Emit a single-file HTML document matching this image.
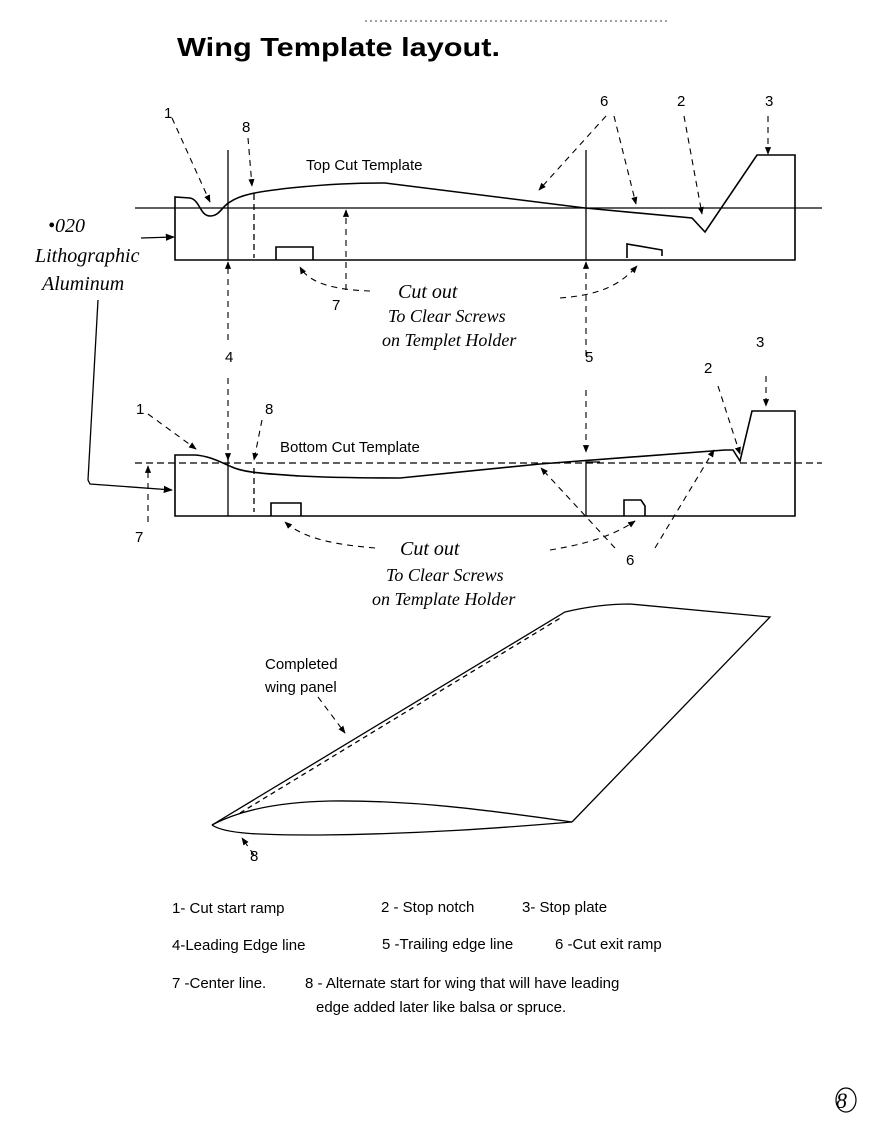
<!DOCTYPE html>
<html><head><style>
html,body{margin:0;padding:0;background:#fff;}
svg{display:block;}
.t{font-family:"Liberation Sans",sans-serif;font-size:15px;fill:#000;}
.h{font-family:"Liberation Serif",serif;font-style:italic;font-size:20px;fill:#000;}
</style></head><body>
<svg width="879" height="1127" viewBox="0 0 879 1127" xmlns="http://www.w3.org/2000/svg">
<defs>
<marker id="a" viewBox="0 0 10 10" refX="9" refY="5" markerWidth="7" markerHeight="7" orient="auto"><path d="M0,1 L10,5 L0,9 z" fill="#000"/></marker>
</defs>
<line x1="365" y1="21" x2="668" y2="21" stroke="#000" stroke-width="0.8" stroke-dasharray="2,3"/>
<text x="177" y="56" textLength="323" lengthAdjust="spacingAndGlyphs" style="font-family:'Liberation Sans',sans-serif;font-weight:bold;font-size:26px">Wing  Template layout.</text>

<g fill="none" stroke="#000" stroke-width="1.3">
<!-- Top template -->
<line x1="135" y1="208" x2="822" y2="208"/>
<path d="M175,260 L175,197 L190,198 C200,200 200,216 210,216 C220,216 222,206 230,202 C240,195 255,192 290,188 C330,184 355,183 385,183 L585,208 L692,218 L705,232 L757,155 L795,155 L795,260 Z" stroke-width="1.6"/>
<line x1="228" y1="150" x2="228" y2="260"/>
<line x1="586" y1="150" x2="586" y2="260"/>
<line x1="254" y1="194" x2="254" y2="258" stroke-dasharray="6,4"/>
<path d="M276,260 V247 H313 V260" stroke-width="1.6"/>
<path d="M627,258 V244 L662,250 V256" stroke-width="1.6"/>
<!-- Bottom template -->
<line x1="135" y1="463" x2="822" y2="463" stroke-dasharray="7,4"/>
<path d="M175,516 L175,455 L195,455 C210,456 220,462 232,467 C245,473 270,474 300,476 C340,478 375,478 400,478 L540,464 L725,450 L733,450 L740,461 L752,411 L795,411 L795,516 Z" stroke-width="1.6"/>
<line x1="228" y1="455" x2="228" y2="516"/>
<path d="M600,462 H586 V516"/>
<line x1="254" y1="468" x2="254" y2="512" stroke-dasharray="6,4"/>
<path d="M271,516 V503 H301 V516" stroke-width="1.6"/>
<path d="M624,516 V500 H641 L645,506 V516" stroke-width="1.6"/>
<!-- wing panel -->
<path d="M212,825 L565,612 C590,606 610,604 630,604 L770,617 L572,822"/>
<path d="M212,825 C240,810 280,802 330,801 C420,800 500,812 572,822"/>
<path d="M212,825 C225,834 260,835 320,835 C420,834 500,828 572,822"/>
<line x1="240" y1="813" x2="562" y2="617" stroke-dasharray="5,4"/>
<!-- Aluminum leader -->
<path d="M98,300 L88,480 L90,484 L172,490" marker-end="url(#a)"/>
<line x1="141" y1="238" x2="174" y2="237" marker-end="url(#a)"/>
</g>

<g fill="none" stroke="#000" stroke-width="1.1" stroke-dasharray="6,5">
<line x1="172" y1="118" x2="210" y2="202" marker-end="url(#a)"/>
<line x1="248" y1="138" x2="252" y2="186" marker-end="url(#a)"/>
<line x1="606" y1="116" x2="539" y2="190" marker-end="url(#a)"/>
<line x1="614" y1="116" x2="636" y2="204" marker-end="url(#a)"/>
<line x1="684" y1="116" x2="702" y2="214" marker-end="url(#a)"/>
<line x1="768" y1="116" x2="768" y2="154" marker-end="url(#a)"/>
<line x1="346" y1="290" x2="346" y2="210" marker-end="url(#a)"/>
<line x1="228" y1="340" x2="228" y2="262" marker-end="url(#a)"/>
<line x1="586" y1="356" x2="586" y2="262" marker-end="url(#a)"/>
<path d="M370,291 C340,290 310,285 300,267" marker-end="url(#a)"/>
<path d="M560,298 C600,295 620,285 637,266" marker-end="url(#a)"/>
<line x1="228" y1="378" x2="228" y2="460" marker-end="url(#a)"/>
<line x1="586" y1="390" x2="586" y2="452" marker-end="url(#a)"/>
<line x1="766" y1="376" x2="766" y2="406" marker-end="url(#a)"/>
<line x1="718" y1="386" x2="740" y2="454" marker-end="url(#a)"/>
<line x1="148" y1="414" x2="196" y2="449" marker-end="url(#a)"/>
<line x1="262" y1="420" x2="254" y2="460" marker-end="url(#a)"/>
<line x1="148" y1="522" x2="148" y2="466" marker-end="url(#a)"/>
<line x1="615" y1="548" x2="541" y2="468" marker-end="url(#a)"/>
<line x1="655" y1="548" x2="714" y2="450" marker-end="url(#a)"/>
<path d="M375,548 C340,545 305,540 285,522" marker-end="url(#a)"/>
<path d="M550,550 C580,545 610,538 635,521" marker-end="url(#a)"/>
<line x1="318" y1="697" x2="345" y2="733" marker-end="url(#a)"/>
<line x1="254" y1="855" x2="242" y2="838" marker-end="url(#a)"/>
</g>

<g class="t">
<text x="164" y="118">1</text>
<text x="242" y="132">8</text>
<text x="306" y="170">Top Cut Template</text>
<text x="600" y="106">6</text>
<text x="677" y="106">2</text>
<text x="765" y="106">3</text>
<text x="332" y="310">7</text>
<text x="225" y="362">4</text>
<text x="585" y="362">5</text>
<text x="756" y="347">3</text>
<text x="704" y="373">2</text>
<text x="136" y="414">1</text>
<text x="265" y="414">8</text>
<text x="280" y="452">Bottom Cut Template</text>
<text x="135" y="542">7</text>
<text x="626" y="565">6</text>
<text x="265" y="669">Completed</text>
<text x="265" y="692">wing panel</text>
<text x="250" y="861">8</text>
<text x="172" y="913">1- Cut start ramp</text>
<text x="381" y="912">2 - Stop notch</text>
<text x="522" y="912">3- Stop plate</text>
<text x="172" y="950">4-Leading Edge line</text>
<text x="382" y="949">5 -Trailing edge line</text>
<text x="555" y="949">6 -Cut exit ramp</text>
<text x="172" y="988">7 -Center line.</text>
<text x="305" y="988">8 - Alternate start  for wing that will have leading</text>
<text x="316" y="1012">edge added  later like balsa or spruce.</text>
</g>

<g class="h">
<text x="48" y="232">•020</text>
<text x="35" y="262">Lithographic</text>
<text x="42" y="290">Aluminum</text>
<text x="398" y="298">Cut out</text>
<text x="388" y="322" style="font-size:18px">To Clear Screws</text>
<text x="382" y="346" style="font-size:18px">on Templet Holder</text>
<text x="400" y="555">Cut out</text>
<text x="386" y="581" style="font-size:18px">To Clear Screws</text>
<text x="372" y="605" style="font-size:18px">on Template Holder</text>
<text x="836" y="1108" style="font-size:22px">8</text>
</g>
<ellipse cx="846" cy="1100" rx="10" ry="12" fill="none" stroke="#000" stroke-width="1.2"/>
</svg>
</body></html>
